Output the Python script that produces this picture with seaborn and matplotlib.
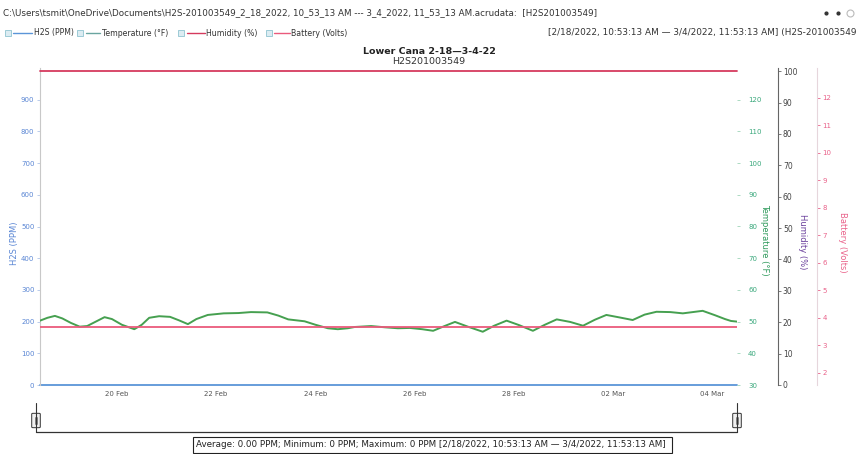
import matplotlib
matplotlib.use("Agg")
import matplotlib.pyplot as plt
import matplotlib.dates as mdates
from matplotlib.lines import Line2D
from matplotlib.patches import Rectangle, FancyBboxPatch
import pandas as pd
import seaborn as sns

# ---- data -------------------------------------------------------------
START = pd.Timestamp("2022-02-18 10:53:13")
END = pd.Timestamp("2022-03-04 11:53:13")

# temperature samples: days since START, degrees F
temp_days = [0.00, 0.15, 0.30, 0.45, 0.62, 0.80, 0.95, 1.10, 1.30, 1.45,
             1.65, 1.90, 2.05, 2.20, 2.40, 2.62, 2.80, 2.98, 3.15, 3.38,
             3.70, 4.00, 4.25, 4.58, 4.80, 5.00, 5.33, 5.55, 5.80, 6.00,
             6.20, 6.34, 6.67, 6.95, 7.21, 7.45, 7.70, 7.92, 8.15, 8.36,
             8.62, 8.92, 9.15, 9.40, 9.65, 9.93, 10.17, 10.41, 10.68, 10.94,
             11.18, 11.41, 11.68, 11.94, 12.18, 12.42, 12.70, 12.95, 13.15, 13.35,
             13.60, 13.80, 13.92, 14.04]
temp_f = [50.3, 51.2, 51.8, 51.0, 49.6, 48.4, 48.6, 49.8, 51.4, 50.8,
          49.0, 47.6, 49.0, 51.2, 51.7, 51.5, 50.4, 49.2, 50.8, 52.1,
          52.6, 52.7, 53.0, 52.9, 51.9, 50.7, 50.1, 49.0, 47.9, 47.6,
          47.9, 48.3, 48.6, 48.2, 47.9, 48.0, 47.6, 47.1, 48.6, 49.9,
          48.4, 46.8, 48.7, 50.3, 48.9, 47.1, 49.0, 50.7, 49.9, 48.7,
          50.6, 52.1, 51.3, 50.5, 52.2, 53.1, 53.0, 52.6, 53.0, 53.4,
          52.0, 50.8, 50.2, 50.0]

h2s_ppm = [0, 0]
humidity_pct = [100, 100]
battery_v = [3.66, 3.66]

h2s_ticks = list(range(0, 1000, 100))
temp_ticks = list(range(30, 130, 10))
hum_ticks = list(range(0, 110, 10))
bat_ticks = list(range(2, 13))
date_ticks = ["2022-02-20", "2022-02-22", "2022-02-24", "2022-02-26",
              "2022-02-28", "2022-03-02", "2022-03-04"]

header = ("C:\\Users\\tsmit\\OneDrive\\Documents\\H2S-201003549_2_18_2022, 10_53_13 AM"
          " --- 3_4_2022, 11_53_13 AM.acrudata:  [H2S201003549]")
range_text = "[2/18/2022, 10:53:13 AM \u2014 3/4/2022, 11:53:13 AM] (H2S-201003549"
title_1 = "Lower Cana 2-18\u20143-4-22"
title_2 = "H2S201003549"
summary = ("Average: 0.00 PPM; Minimum: 0 PPM; Maximum: 0 PPM "
           "[2/18/2022, 10:53:13 AM \u2014 3/4/2022, 11:53:13 AM]")
series_names = ["H2S (PPM)", "Temperature (\u00b0F)", "Humidity (%)", "Battery (Volts)"]

# ---- colours ----------------------------------------------------------
C_H2S = "#5b95d8"
C_H2S_TXT = "#5a86d4"
C_TEMP = "#46a050"
C_TEMP_TXT = "#3aa87c"
C_HUM = "#d53a5e"
C_HUM_TXT = "#6a3f9c"
C_BAT = "#ea5a7c"
C_BAT_TXT = "#e9628a"

sns.set_style("white")
plt.rcParams["font.family"] = ["DejaVu Sans"]

W, H = 859, 454
fig = plt.figure(figsize=(W / 100, H / 100), dpi=100)


def fx(px):
    return px / W


def fy(py):
    return 1 - py / H


L, R, T, B = 40, 737, 68, 385
ax = fig.add_axes([fx(L), fy(B), fx(R) - fx(L), fy(T) - fy(B)])
ax_t = ax.twinx()
ax_h = ax.twinx()
ax_b = ax.twinx()

times = pd.Series(START + pd.to_timedelta(temp_days, unit="D"))
times.iloc[-1] = END
temp_df = pd.DataFrame({"time": times, "temp": temp_f})
span_df = pd.DataFrame({"time": [START, END], "h2s": h2s_ppm,
                        "hum": humidity_pct, "bat": battery_v})

sns.lineplot(data=span_df, x="time", y="h2s", ax=ax, color=C_H2S, lw=1.3, clip_on=False)
sns.lineplot(data=temp_df, x="time", y="temp", ax=ax_t, color=C_TEMP, lw=1.4)
sns.lineplot(data=span_df, x="time", y="hum", ax=ax_h, color=C_HUM, lw=1.3, clip_on=False)
sns.lineplot(data=span_df, x="time", y="bat", ax=ax_b, color=C_BAT, lw=1.3)

ax.set_xlim(START, END)
ax.set_ylim(0, 1000)
ax_t.set_ylim(30, 130)
ax_h.set_ylim(0, 101)
ax_b.set_ylim(1.56, 13.09)

for a in (ax, ax_t, ax_h, ax_b):
    a.set_xlabel("")
    a.set_ylabel("")
    a.grid(False)
    for s in a.spines.values():
        s.set_visible(False)

# x axis
ax.set_xticks(pd.to_datetime(date_ticks))
ax.xaxis.set_major_formatter(mdates.DateFormatter("%d %b"))
ax.tick_params(axis="x", length=0, pad=4, labelsize=5, labelcolor="#555555")

# H2S axis
ax.spines["left"].set_visible(True)
ax.spines["left"].set_color("#c8c8c8")
ax.spines["left"].set_linewidth(0.8)
ax.set_yticks(h2s_ticks)
ax.tick_params(axis="y", length=2, width=0.6, color="#b0c4e8", pad=2,
               labelsize=5, labelcolor=C_H2S_TXT)

# temperature axis
ax_t.set_yticks(temp_ticks)
ax_t.tick_params(axis="y", length=2, width=0.6, color="#9fd4b8", pad=6,
                 labelsize=5, labelcolor=C_TEMP_TXT)

# humidity axis
ax_h.spines["right"].set_visible(True)
ax_h.spines["right"].set_position(("axes", (778 - L) / (R - L)))
ax_h.spines["right"].set_color("#666666")
ax_h.spines["right"].set_linewidth(0.8)
ax_h.set_yticks(hum_ticks)
ax_h.tick_params(axis="y", length=2, width=0.6, color="#666666", pad=1.5,
                 labelsize=5.5, labelcolor="#444444")

# battery axis
ax_b.spines["right"].set_visible(True)
ax_b.spines["right"].set_position(("axes", (817 - L) / (R - L)))
ax_b.spines["right"].set_color("#e6d6dc")
ax_b.spines["right"].set_linewidth(0.8)
ax_b.set_yticks(bat_ticks)
ax_b.tick_params(axis="y", length=2, width=0.6, color=C_BAT_TXT, pad=2,
                 labelsize=5, labelcolor=C_BAT_TXT)

# axis titles
fig.text(fx(15), fy(243), series_names[0], rotation=90, ha="center", va="center",
         fontsize=6, color=C_H2S_TXT)
fig.text(fx(765), fy(240), series_names[1], rotation=270, ha="center", va="center",
         fontsize=6, color="#2f9a5c")
fig.text(fx(803), fy(242), series_names[2], rotation=270, ha="center", va="center",
         fontsize=6, color=C_HUM_TXT)
fig.text(fx(842), fy(242), series_names[3], rotation=270, ha="center", va="center",
         fontsize=6, color=C_BAT_TXT)

# chart title
fig.text(fx(429), fy(52), title_1, ha="center", va="center", fontsize=6.8,
         fontweight="bold", color="#222222")
fig.text(fx(429), fy(61.5), title_2, ha="center", va="center", fontsize=6.8,
         color="#333333")

# header rows
fig.text(fx(3), fy(13), header, ha="left", va="center", fontsize=6.3, color="#333333")
fig.text(fx(548), fy(33), range_text, ha="left", va="center", fontsize=6.4,
         color="#333333")
for px in (826, 838):
    fig.add_artist(Line2D([fx(px)], [fy(13)], marker="o", ms=2, color="#333333",
                          transform=fig.transFigure))
fig.add_artist(Line2D([fx(850)], [fy(13)], marker="o", ms=5, mfc="none",
                      mec="#bbbbbb", mew=0.8, transform=fig.transFigure))

# series toggles along the top
legend_items = [
    (5, 13, 32, 34, series_names[0], C_H2S),
    (77, 86, 100, 102, series_names[1], "#6aa5a0"),
    (178, 187, 205, 206, series_names[2], C_HUM),
    (266, 274, 290, 291, series_names[3], C_BAT),
]
for box_x, lx0, lx1, tx, name, col in legend_items:
    fig.add_artist(Rectangle((fx(box_x), fy(36)), fx(6), 6 / H, transform=fig.transFigure,
                             facecolor="#dcecf2", edgecolor="#8fc3d0", lw=0.6))
    fig.add_artist(Line2D([fx(lx0), fx(lx1)], [fy(33), fy(33)], color=col, lw=1.0,
                          transform=fig.transFigure))
    fig.text(fx(tx), fy(33), name, ha="left", va="center", fontsize=5.6, color="#333333")

# range navigator bracket below the plot
nav_y = 432
for hx in (36, 737):
    fig.add_artist(Line2D([fx(hx), fx(hx)], [fy(403), fy(nav_y)], color="#333333",
                          lw=0.8, transform=fig.transFigure))
    fig.add_artist(FancyBboxPatch((fx(hx - 3), fy(427)), fx(6), 13 / H,
                                  boxstyle="round,pad=0.0015", transform=fig.transFigure,
                                  facecolor="#f0f0f0", edgecolor="#333333", lw=0.7))
    fig.add_artist(Line2D([fx(hx - 1), fx(hx - 1)], [fy(424), fy(417)], color="#555555",
                          lw=0.5, transform=fig.transFigure))
    fig.add_artist(Line2D([fx(hx + 1), fx(hx + 1)], [fy(424), fy(417)], color="#555555",
                          lw=0.5, transform=fig.transFigure))
fig.add_artist(Line2D([fx(36), fx(737)], [fy(nav_y), fy(nav_y)], color="#333333",
                      lw=0.9, transform=fig.transFigure))

# summary box
fig.add_artist(Rectangle((fx(193), fy(453)), fx(672) - fx(193), 16 / H,
                         transform=fig.transFigure, facecolor="white",
                         edgecolor="#222222", lw=0.8))
fig.text(fx(196), fy(444.5), summary, ha="left", va="center", fontsize=6.3,
         color="#222222")

fig.savefig("out.png", dpi=100)
